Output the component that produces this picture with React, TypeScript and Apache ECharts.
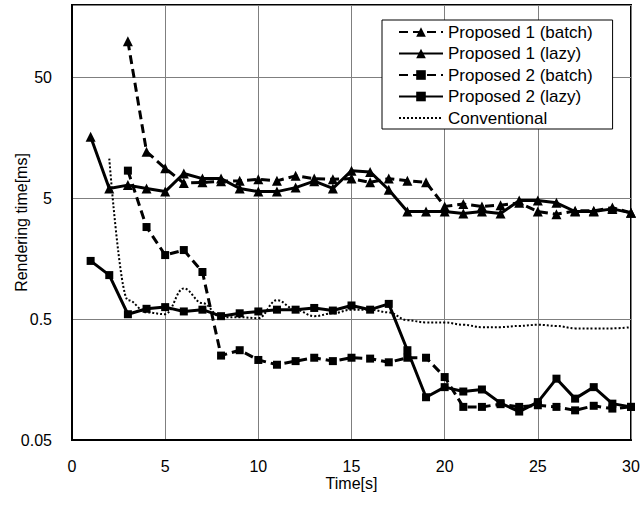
import React, { useEffect, useRef } from "react";
import * as echarts from "echarts";

const timeSec = [1, 2, 3, 4, 5, 6, 7, 8, 9, 10, 11, 12, 13, 14, 15, 16, 17, 18, 19, 20, 21, 22, 23, 24, 25, 26, 27, 28, 29, 30];

const p1Batch = [null, null, 100, 12.2, 8.9, 6.7, 6.8, 6.95, 7.0, 7.2, 7.0, 7.7, 7.3, 7.2, 7.3, 6.8, 7.3, 7.0, 6.8, 4.3, 4.5, 4.3, 4.4, 4.6, 3.9, 3.7, 3.95, 3.95, 4.2, 3.8];
const p1Lazy = [16.2, 6.05, 6.45, 6.05, 5.7, 8.05, 7.3, 7.3, 6.05, 5.7, 5.7, 6.15, 6.95, 6.05, 8.5, 8.3, 5.9, 3.9, 3.9, 3.9, 3.75, 3.9, 3.75, 4.8, 4.8, 4.6, 3.9, 3.9, 4.1, 3.8];
const p2Batch = [null, null, 8.5, 2.9, 1.7, 1.87, 1.23, 0.25, 0.277, 0.23, 0.21, 0.225, 0.24, 0.225, 0.24, 0.236, 0.22, 0.24, 0.24, 0.166, 0.094, 0.094, 0.099, 0.094, 0.097, 0.094, 0.088, 0.096, 0.091, 0.094];
const p2Lazy = [1.52, 1.16, 0.55, 0.61, 0.63, 0.58, 0.6, 0.53, 0.56, 0.58, 0.6, 0.6, 0.62, 0.59, 0.65, 0.6, 0.67, 0.277, 0.113, 0.137, 0.126, 0.131, 0.101, 0.086, 0.103, 0.161, 0.11, 0.137, 0.1, 0.094];
const conventional = [null, 10.7, 0.72, 0.57, 0.55, 0.9, 0.68, 0.52, 0.52, 0.51, 0.72, 0.6, 0.53, 0.56, 0.6, 0.6, 0.57, 0.49, 0.47, 0.47, 0.45, 0.43, 0.43, 0.44, 0.45, 0.44, 0.42, 0.42, 0.42, 0.43];

const seriesNames = ["Proposed 1 (batch)", "Proposed 1 (lazy)", "Proposed 2 (batch)", "Proposed 2 (lazy)", "Conventional"];
const xTicks = [0, 5, 10, 15, 20, 25, 30];
const yTicks = [0.05, 0.5, 5, 50];

const FONT = "Liberation Sans, Arial, sans-serif";

function pairs(vals: (number | null)[]) {
  const out: [number, number][] = [];
  vals.forEach((v, i) => {
    if (v !== null) out.push([timeSec[i], v]);
  });
  return out;
}

export default function App() {
  const ref = useRef<HTMLDivElement>(null);
  useEffect(() => {
    if (!ref.current) return;
    const chart = echarts.init(ref.current, null, { renderer: "svg" });
    const dashed = [9, 5];
    const option = {
      animation: false,
      backgroundColor: "#ffffff",
      textStyle: { fontFamily: FONT, color: "#000" },
      grid: {
        left: 72,
        right: 10,
        top: 5,
        bottom: 65,
        containLabel: false,
        outerBoundsMode: "none",
        show: true,
        borderColor: "#000",
        borderWidth: 2,
        backgroundColor: "transparent",
      },
      legend: {
        show: true,
        left: 382,
        top: 20,
        orient: "vertical",
        backgroundColor: "#fff",
        borderColor: "#000",
        borderWidth: 1,
        padding: [2, 20, 1, 16],
        itemGap: 1.5,
        itemWidth: 44,
        itemHeight: 12,
        textStyle: { fontFamily: FONT, fontSize: 17, color: "#000", lineHeight: 20 },
        data: [
          seriesNames[0],
          seriesNames[1],
          seriesNames[2],
          seriesNames[3],
          { name: seriesNames[4], itemStyle: { opacity: 0 } },
        ],
      },
      xAxis: {
        type: "value",
        min: xTicks[0],
        max: xTicks[xTicks.length - 1],
        interval: 5,
        name: "Time[s]",
        nameLocation: "middle",
        nameGap: 35,
        nameMoveOverlap: false,
        nameTextStyle: { fontFamily: FONT, fontSize: 16, color: "#000" },
        axisLine: { show: true, lineStyle: { color: "#000", width: 2 } },
        axisTick: { show: false },
        axisLabel: { fontFamily: FONT, fontSize: 16, color: "#000", margin: 18 },
        splitLine: { show: true, lineStyle: { color: "#7f7f7f", width: 1 } },
      },
      yAxis: {
        type: "log",
        logBase: 10,
        min: yTicks[0],
        max: 200,
        interval: 1,
        name: "Rendering time[ms]",
        nameLocation: "middle",
        nameGap: 43,
        nameMoveOverlap: false,
        nameTextStyle: { fontFamily: FONT, fontSize: 16, color: "#000" },
        axisLine: { show: true, lineStyle: { color: "#000", width: 2 } },
        axisTick: { show: false },
        axisLabel: {
          fontFamily: FONT,
          fontSize: 16,
          color: "#000",
          margin: 20,
          showMaxLabel: false,
          formatter: (v: any) => {
            const n = Number(v);
            if (!(n < 100)) return "";
            return String(Number(n.toPrecision(2)));
          },
        },
        splitLine: { show: true, lineStyle: { color: "#7f7f7f", width: 1 } },
      },
      series: [
        {
          name: seriesNames[0],
          type: "line",
          data: pairs(p1Batch),
          symbol: "triangle",
          symbolSize: 10,
          itemStyle: { color: "#000" },
          lineStyle: { color: "#000", width: 3, type: dashed },
        },
        {
          name: seriesNames[1],
          type: "line",
          data: pairs(p1Lazy),
          symbol: "triangle",
          symbolSize: 10,
          itemStyle: { color: "#000" },
          lineStyle: { color: "#000", width: 3, type: "solid" },
        },
        {
          name: seriesNames[2],
          type: "line",
          data: pairs(p2Batch),
          symbol: "rect",
          symbolSize: 8,
          itemStyle: { color: "#000" },
          lineStyle: { color: "#000", width: 3, type: dashed },
        },
        {
          name: seriesNames[3],
          type: "line",
          data: pairs(p2Lazy),
          symbol: "rect",
          symbolSize: 8,
          itemStyle: { color: "#000" },
          lineStyle: { color: "#000", width: 3, type: "solid" },
        },
        {
          name: seriesNames[4],
          type: "line",
          data: pairs(conventional),
          symbol: "none",
          smooth: 0.4,
          smoothMonotone: "x",
          itemStyle: { color: "#000" },
          lineStyle: { color: "#000", width: 2, type: [2, 2] },
        },
      ],
    };
    chart.setOption(option as any);
    return () => chart.dispose();
  }, []);
  return (
    <div
      ref={ref}
      style={{ position: "fixed", left: 0, top: 0, width: 641, height: 505, background: "#fff" }}
    />
  );
}
